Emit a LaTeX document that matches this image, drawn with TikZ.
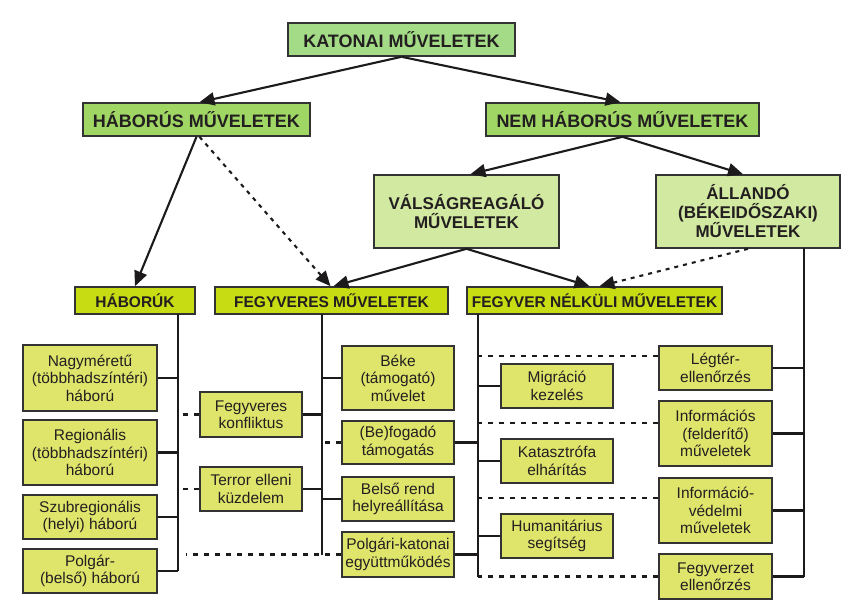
\documentclass[tikz,border=0pt]{standalone}
\usepackage{fontspec}
\setmainfont{Liberation Sans}
\usetikzlibrary{arrows.meta,calc}
\definecolor{cKat}{HTML}{A3DB86}
\definecolor{cHab}{HTML}{A0D764}
\definecolor{cVal}{HTML}{D2E9A1}
\definecolor{cHdr}{HTML}{C7DC12}
\definecolor{cBox}{HTML}{DFE46A}
\definecolor{cBorder}{HTML}{333333}
\definecolor{cLine}{HTML}{1C1A1A}
\definecolor{cText}{HTML}{231F20}
\tikzset{
  bx/.style={draw=cBorder, line width=1.6pt, inner sep=0pt, align=center, text=cText},
  topbox/.style={bx, font=\bfseries\fontsize{18}{20}\selectfont, minimum height=33pt},
  midbox/.style={bx, fill=cVal, font=\bfseries\fontsize{17}{19}\selectfont, minimum height=73pt},
  hdrbox/.style={bx, fill=cHdr, font=\bfseries\fontsize{15.5}{17}\selectfont, minimum height=27pt},
  smbox/.style={bx, fill=cBox, font=\fontsize{15.5}{17.5}\selectfont},
  ln/.style={draw=cLine, line width=2.1pt},
  arr/.style={ln, -{Triangle[length=15pt,width=13pt]}},
  dotarr/.style={arr, dash pattern=on 4pt off 5pt},
  dsh/.style={ln, dash pattern=on 5pt off 6pt},
}
\begin{document}
\begin{tikzpicture}[x=1pt,y=-1pt]
\useasboundingbox[fill=white] (0,0) rectangle (860,611);

% top levels
\node[topbox, fill=cKat, minimum width=227pt] (kat) at (401.5,39.5) {KATONAI MŰVELETEK};
\node[topbox, fill=cHab, minimum width=227pt] (hab) at (196.5,119.5) {HÁBORÚS MŰVELETEK};
\node[topbox, fill=cHab, minimum width=273pt] (nem) at (622.5,119.5) {NEM HÁBORÚS MŰVELETEK};
\node[midbox, minimum width=185pt] (val) at (466.5,211.5) {VÁLSÁGREAGÁLÓ\\MŰVELETEK};
\node[midbox, minimum width=184pt] (all) at (748,211.5) {ÁLLANDÓ\\(BÉKEIDŐSZAKI)\\MŰVELETEK};

% row 3 headers
\node[hdrbox, minimum width=120pt] (habk) at (135,300.5) {HÁBORÚK};
\node[hdrbox, minimum width=233pt] (fegy) at (331.5,300.5) {FEGYVERES MŰVELETEK};
\node[hdrbox, minimum width=255pt] (fnk) at (594.5,300.5) {FEGYVER NÉLKÜLI MŰVELETEK};

% column A
\node[smbox, minimum width=134pt, minimum height=66pt] (nagy) at (90,378) {Nagyméretű\\(többhadszíntéri)\\háború};
\node[smbox, minimum width=134pt, minimum height=65pt] (reg) at (90,452.5) {Regionális\\(többhadszíntéri)\\háború};
\node[smbox, minimum width=134pt, minimum height=44pt] (szub) at (90,517) {Szubregionális\\(helyi) háború};
\node[smbox, minimum width=134pt, minimum height=44pt] (polg) at (90,571) {Polgár-\\(belső) háború};

% column B
\node[smbox, minimum width=102pt, minimum height=45pt] (fk) at (251,414.5) {Fegyveres\\konfliktus};
\node[smbox, minimum width=102pt, minimum height=44pt] (ter) at (251,489) {Terror elleni\\küzdelem};

% column C
\node[smbox, minimum width=112pt, minimum height=64pt] (beke) at (398,378) {Béke\\(támogató)\\művelet};
\node[smbox, minimum width=112pt, minimum height=43pt] (befog) at (398,442.5) {(Be)fogadó\\támogatás};
\node[smbox, minimum width=112pt, minimum height=44pt] (belso) at (398,499) {Belső rend\\helyreállítása};
\node[smbox, minimum width=112pt, minimum height=45pt] (pk) at (398,554.5) {Polgári-katonai\\együttműködés};

% column D
\node[smbox, minimum width=112pt, minimum height=44pt] (migr) at (557,386) {Migráció\\kezelés};
\node[smbox, minimum width=112pt, minimum height=44pt] (kat2) at (557,461) {Katasztrófa\\elhárítás};
\node[smbox, minimum width=112pt, minimum height=44pt] (hum) at (557,536) {Humanitárius\\segítség};

% column E
\node[smbox, minimum width=113pt, minimum height=44pt] (leg) at (715.5,368) {Légtér-\\ellenőrzés};
\node[smbox, minimum width=113pt, minimum height=65pt] (info) at (715.5,433.5) {Információs\\(felderítő)\\műveletek};
\node[smbox, minimum width=113pt, minimum height=65pt] (infv) at (715.5,510.5) {Információ-\\védelmi\\műveletek};
\node[smbox, minimum width=113pt, minimum height=45pt] (fegyz) at (715.5,576.5) {Fegyverzet\\ellenőrzés};

% arrows
\draw[arr] (kat.south) -- ([xshift=3pt]hab.north);
\draw[arr] (kat.south) -- ([xshift=-2pt]nem.north);
\draw[arr] (nem.south) -- ([xshift=4pt]val.north);
\draw[arr] (nem.south) -- ([xshift=-5pt]all.north);
\draw[arr] (hab.south) -- (habk.north);
\draw[dotarr] ([xshift=3pt]hab.south) -- ([xshift=-1pt]fegy.north);
\draw[arr] (val.south) -- ([xshift=2pt]fegy.north);
\draw[arr] (val.south) -- ([xshift=-5pt]fnk.north);
\draw[dotarr] (all.south) -- ([xshift=5pt]fnk.north);

% trunk coordinates
\coordinate (hv) at (178,314);
\coordinate (fv) at (322,314);
\coordinate (nv) at (478,314);
\coordinate (av) at (804,248);

% HÁBORÚK tree
\draw[ln] (hv) -- (hv |- polg.east);
\foreach \n in {nagy,reg,szub,polg} \draw[ln] (\n.east) -- (\n.east -| hv);

% FEGYVERES tree
\draw[ln] (fv) -- (fv |- pk.west);
\foreach \n in {fk,ter} \draw[ln] (\n.east) -- (\n.east -| fv);
\foreach \n in {beke,belso} \draw[ln] (\n.west) -- (\n.west -| fv);
\draw[dsh] (befog.west) -- (befog.west -| fv);
\foreach \n in {fk,ter} \draw[dsh] (\n.west) -- (\n.west -| hv);
\draw[dsh] (pk.west) -- ([xshift=8pt]pk.west -| hv);

% FEGYVER NÉLKÜLI tree
\draw[ln] (nv) -- (nv |- fegyz.west);
\foreach \n in {migr,kat2,hum} \draw[ln] (\n.west) -- (\n.west -| nv);
\foreach \n in {befog,pk} \draw[ln] (\n.east) -- (\n.east -| nv);
\draw[dsh] ([yshift=12pt]leg.west) -- ([yshift=12pt]leg.west -| nv);
\draw[dsh] ([yshift=10.5pt]info.west) -- ([yshift=10.5pt]info.west -| nv);
\draw[dsh] ([yshift=12.5pt]infv.west) -- ([yshift=12.5pt]infv.west -| nv);
\draw[dsh] (fegyz.west) -- (fegyz.west -| nv);

% ÁLLANDÓ tree
\draw[ln] (av) -- (av |- fegyz.east);
\foreach \n in {leg,info,infv,fegyz} \draw[ln] (\n.east) -- (\n.east -| av);
\end{tikzpicture}
\end{document}
